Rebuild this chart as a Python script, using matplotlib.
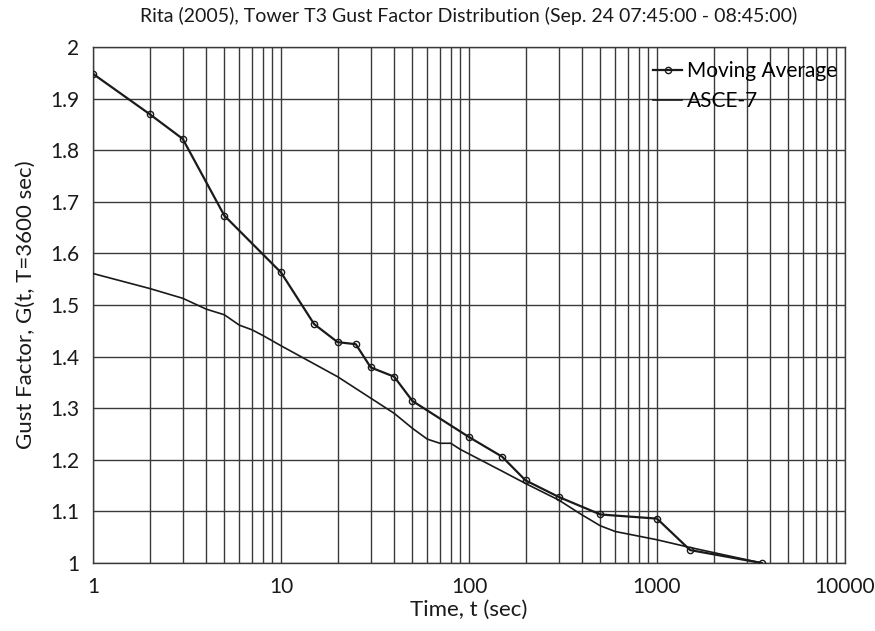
import matplotlib
matplotlib.use("Agg")
import matplotlib.pyplot as plt
from matplotlib.ticker import FixedLocator, NullFormatter, LogLocator

plt.rcParams['font.family'] = ['Lato', 'DejaVu Sans']

# Moving average data
ma_t = [1, 2, 3, 5, 10, 15, 20, 25, 30, 40, 50, 100, 150, 200, 300, 500, 1000, 1500, 3600]
ma_g = [1.948, 1.870, 1.822, 1.673, 1.563, 1.463, 1.428, 1.424, 1.379, 1.361, 1.314,
        1.244, 1.206, 1.160, 1.128, 1.094, 1.086, 1.025, 1.000]

# ASCE-7 data
asce_t = [1, 2, 3, 4, 5, 6, 7, 8, 10, 20, 40, 50, 60, 70, 80, 90, 150, 200, 300, 400,
          500, 600, 1000, 1500, 3600]
asce_g = [1.561, 1.532, 1.513, 1.492, 1.481, 1.461, 1.452, 1.441, 1.421, 1.361, 1.290,
          1.261, 1.240, 1.232, 1.232, 1.220, 1.178, 1.154, 1.122, 1.093,
          1.072, 1.061, 1.045, 1.030, 1.000]

y_ticks = [1.0, 1.1, 1.2, 1.3, 1.4, 1.5, 1.6, 1.7, 1.8, 1.9, 2.0]
y_labels = ['1', '1.1', '1.2', '1.3', '1.4', '1.5', '1.6', '1.7', '1.8', '1.9', '2']
x_ticks = [1, 10, 100, 1000, 10000]
x_labels = ['1', '10', '100', '1000', '10000']

fig = plt.figure(figsize=(8.75, 6.31), dpi=100)
ax = fig.add_axes([0.1063, 0.1078, 0.8594, 0.8177])

ax.plot(ma_t, ma_g, color='#1a1a1a', lw=1.6, marker='o', markersize=4.5,
        markerfacecolor='none', markeredgecolor='#1a1a1a', markeredgewidth=1.0,
        label='Moving Average', zorder=3)
ax.plot(asce_t, asce_g, color='#1a1a1a', lw=1.2, label='ASCE-7', zorder=3)

ax.set_xscale('log')
ax.set_xlim(1, 10000)
ax.set_ylim(1, 2)
ax.xaxis.set_major_locator(FixedLocator(x_ticks))
ax.set_xticks(x_ticks)
ax.set_xticklabels(x_labels)
ax.xaxis.set_minor_locator(LogLocator(base=10, subs=range(2, 10), numticks=20))
ax.xaxis.set_minor_formatter(NullFormatter())
ax.set_yticks(y_ticks)
ax.set_yticklabels(y_labels)

ax.grid(which='major', axis='both', color='#3a3a3a', lw=1.0)
ax.grid(which='minor', axis='x', color='#3a3a3a', lw=1.0)
ax.tick_params(which='both', length=0, labelsize=15, colors='#1a1a1a', pad=10)
for s in ax.spines.values():
    s.set_color('#3a3a3a')
    s.set_linewidth(1.0)

ax.set_xlabel('Time, t (sec)', fontsize=16, color='#1a1a1a', labelpad=2)
ax.set_ylabel('Gust Factor, G(t, T=3600 sec)', fontsize=16, color='#1a1a1a', labelpad=10)
ax.set_title('Rita (2005), Tower T3 Gust Factor Distribution (Sep. 24 07:45:00 - 08:45:00)',
             fontsize=14, color='#1a1a1a', pad=18)

leg = ax.legend(loc='upper left', frameon=False, fontsize=15, handlelength=1.4,
                handletextpad=0.2, borderaxespad=0.0, borderpad=0.0, labelspacing=0.45,
                bbox_to_anchor=(0.745, 0.972))

fig.savefig('out.png', dpi=100)
